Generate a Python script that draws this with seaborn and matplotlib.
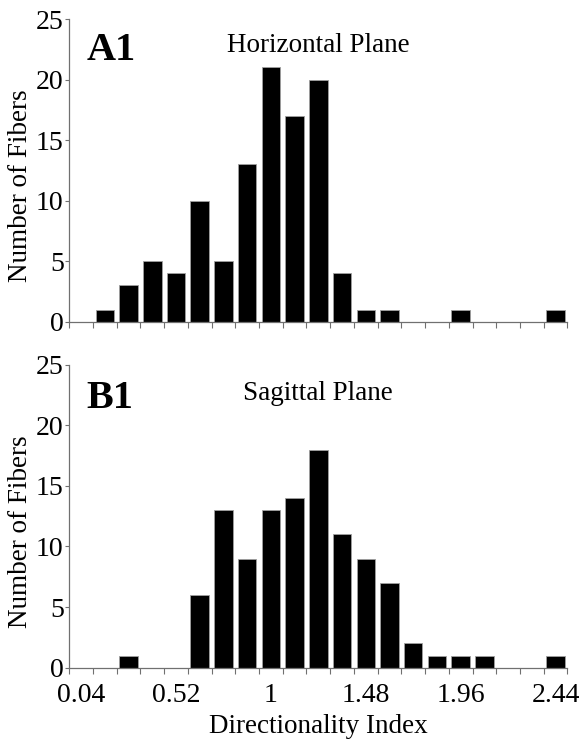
import numpy as np
import pandas as pd
import matplotlib
matplotlib.use("Agg")
import matplotlib.pyplot as plt
import seaborn as sns

# bin centres of the directionality index (step 0.12)
bins = [0.04, 0.16, 0.28, 0.40, 0.52, 0.64, 0.76, 0.88, 1.00, 1.12, 1.24,
        1.36, 1.48, 1.60, 1.72, 1.84, 1.96, 2.08, 2.20, 2.32, 2.44]
horizontal = [0, 1, 3, 5, 4, 10, 5, 13, 21, 17, 20, 4, 1, 1, 0, 0, 1, 0, 0, 0, 1]
sagittal = [0, 0, 1, 0, 0, 6, 13, 9, 13, 14, 18, 11, 9, 7, 2, 1, 1, 1, 0, 0, 1]
tick_labels = ["0.04", "0.52", "1", "1.48", "1.96", "2.44"]

sns.set_style("white")
plt.rcParams['font.family'] = ['Liberation Serif', 'DejaVu Serif']
plt.rcParams['text.color'] = 'black'
plt.rcParams['axes.labelcolor'] = 'black'
plt.rcParams['xtick.labelcolor'] = 'black'
plt.rcParams['ytick.labelcolor'] = 'black'

fig = plt.figure(figsize=(5.82, 7.4), dpi=100)
ax1 = fig.add_axes([0.119, 0.5653, 0.856, 0.409])
ax2 = fig.add_axes([0.119, 0.0977, 0.856, 0.4095])

spine_col = '#707070'
panels = [(ax1, horizontal, "A1", "Horizontal Plane", 0.865, 0.891),
          (ax2, sagittal, "B1", "Sagittal Plane", 0.857, 0.883)]

for ax, counts, tag, title, tag_y, title_y in panels:
    df = pd.DataFrame({'bin': [f"{b:.2f}" for b in bins], 'count': counts})
    sns.barplot(data=df, x='bin', y='count', ax=ax, color='black',
                saturation=1, width=0.78, edgecolor='#a0a0a0', linewidth=0.6)
    ax.set_xlim(-0.5, len(bins) - 0.5)
    ax.set_ylim(0, 25)
    ax.set_yticks([0, 5, 10, 15, 20, 25])
    ax.tick_params(axis='y', labelsize=20, length=3, width=0.8,
                   color=spine_col, left=True, pad=1)
    ax.set_xticks(np.arange(-0.5, len(bins), 1.0), minor=True)
    ax.tick_params(axis='x', which='minor', bottom=True, length=4,
                   width=0.8, color=spine_col, direction='out')
    ax.set_xticks(range(0, len(bins), 4))
    ax.tick_params(axis='x', which='major', length=0, labelsize=20, pad=11)
    for s in ['top', 'right']:
        ax.spines[s].set_visible(False)
    for s in ['left', 'bottom']:
        ax.spines[s].set_color(spine_col)
        ax.spines[s].set_linewidth(0.9)
    ax.set_ylabel("Number of Fibers", fontsize=19.5)
    ax.yaxis.set_label_coords(-0.073, 0.45)
    ax.text(0.034, tag_y, tag, transform=ax.transAxes, fontsize=29,
            fontweight='bold', ha='left', va='baseline')
    ax.text(0.5, title_y, title, transform=ax.transAxes, fontsize=19.5,
            ha='center', va='baseline')

ax1.set_xticklabels([])
ax1.set_xlabel("")
ax2.set_xticklabels(tick_labels)
ax2.set_xlabel("Directionality Index", fontsize=19.5, labelpad=4)

fig.savefig("out.png", dpi=100)
